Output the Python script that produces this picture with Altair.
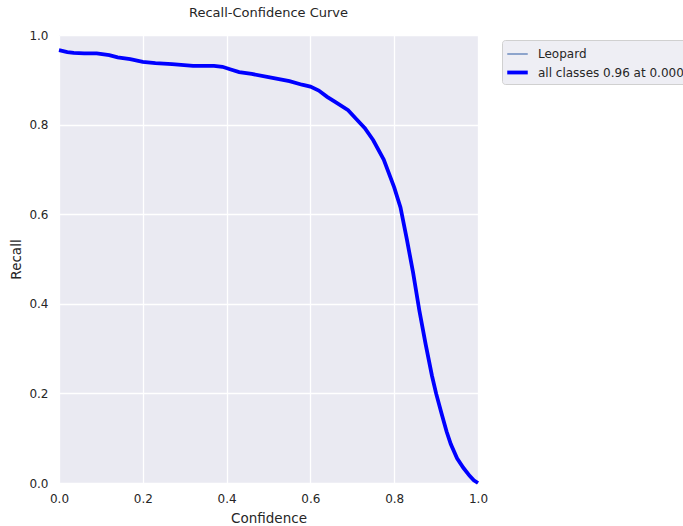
import altair as alt
import pandas as pd

conf = [0.0, 0.02, 0.035, 0.06, 0.09, 0.12, 0.14, 0.17, 0.2, 0.23, 0.27, 0.32, 0.37, 0.39,
        0.41, 0.43, 0.46, 0.5, 0.55, 0.58, 0.6, 0.62, 0.64, 0.66, 0.69, 0.71, 0.73, 0.75,
        0.775, 0.8, 0.815, 0.83, 0.845, 0.86, 0.875, 0.89, 0.9, 0.913, 0.925, 0.935, 0.95,
        0.965, 0.98, 0.99, 1.0]
recall = [0.966, 0.962, 0.960, 0.959, 0.959, 0.955, 0.950, 0.946, 0.940, 0.937, 0.935,
          0.931, 0.931, 0.929, 0.923, 0.917, 0.913, 0.906, 0.897, 0.889, 0.885, 0.876,
          0.862, 0.850, 0.832, 0.812, 0.792, 0.765, 0.722, 0.660, 0.615, 0.545, 0.47,
          0.385, 0.31, 0.24, 0.20, 0.155, 0.115, 0.087, 0.055, 0.034, 0.016, 0.006, 0.0]
series_names = ["Leopard", "all classes 0.96 at 0.000"]
series_colors = ["#4c72b0", "#0000ff"]
series_widths = [1.2, 3.8]

rows = []
for s in series_names:
    for c, r in zip(conf, recall):
        rows.append({"Confidence": c, "Recall": r, "series": s})
df = pd.DataFrame(rows)

color_scale = alt.Scale(domain=series_names, range=series_colors)
width_scale = alt.Scale(domain=series_names, range=series_widths)
legend = alt.Legend(
    title=None, orient="none", legendX=443, legendY=5,
    symbolType="stroke", symbolSize=420, labelFontSize=12, labelColor="#262626",
    labelFont="DejaVu Sans", labelLimit=400, fillColor="#EEEEF4", strokeColor="#d0d0d0",
    cornerRadius=3, padding=3, rowPadding=0, labelOffset=8,
)

base = alt.Chart(df).mark_line().encode(
    x=alt.X("Confidence:Q", scale=alt.Scale(domain=[0, 1], nice=False),
            axis=alt.Axis(values=[0, 0.2, 0.4, 0.6, 0.8, 1.0], format=".1f")),
    y=alt.Y("Recall:Q", scale=alt.Scale(domain=[0, 1], nice=False),
            axis=alt.Axis(values=[0, 0.2, 0.4, 0.6, 0.8, 1.0], format=".1f")),
    color=alt.Color("series:N", scale=color_scale, legend=legend),
    strokeWidth=alt.StrokeWidth("series:N", scale=width_scale, legend=legend),
    order=alt.Order("Confidence:Q"),
)

thin = base.transform_filter(alt.datum.series == series_names[0])
thick = base.transform_filter(alt.datum.series == series_names[1])

chart = alt.layer(thin, thick).properties(
    width=419, height=448,
    title=alt.TitleParams("Recall-Confidence Curve", fontSize=13, font="DejaVu Sans",
                          fontWeight="normal", color="#262626", offset=9),
    autosize=alt.AutoSizeParams(type="none"),
    padding={"left": 59, "top": 35, "right": 205, "bottom": 43},
    background="white",
).configure_view(
    fill="#EAEAF2", stroke=None
).configure_axis(
    grid=True, gridColor="white", gridWidth=1.3, domain=False, ticks=False,
    labelFont="DejaVu Sans", labelFontSize=12, labelColor="#262626", labelFlush=False,
    titleFont="DejaVu Sans", titleFontSize=13.5, titleColor="#262626", titleFontWeight="normal",
).configure_axisX(labelPadding=10, titlePadding=7).configure_axisY(labelPadding=11, titlePadding=5)

chart.save("out.html", embed_options={"renderer": "svg", "actions": False})
